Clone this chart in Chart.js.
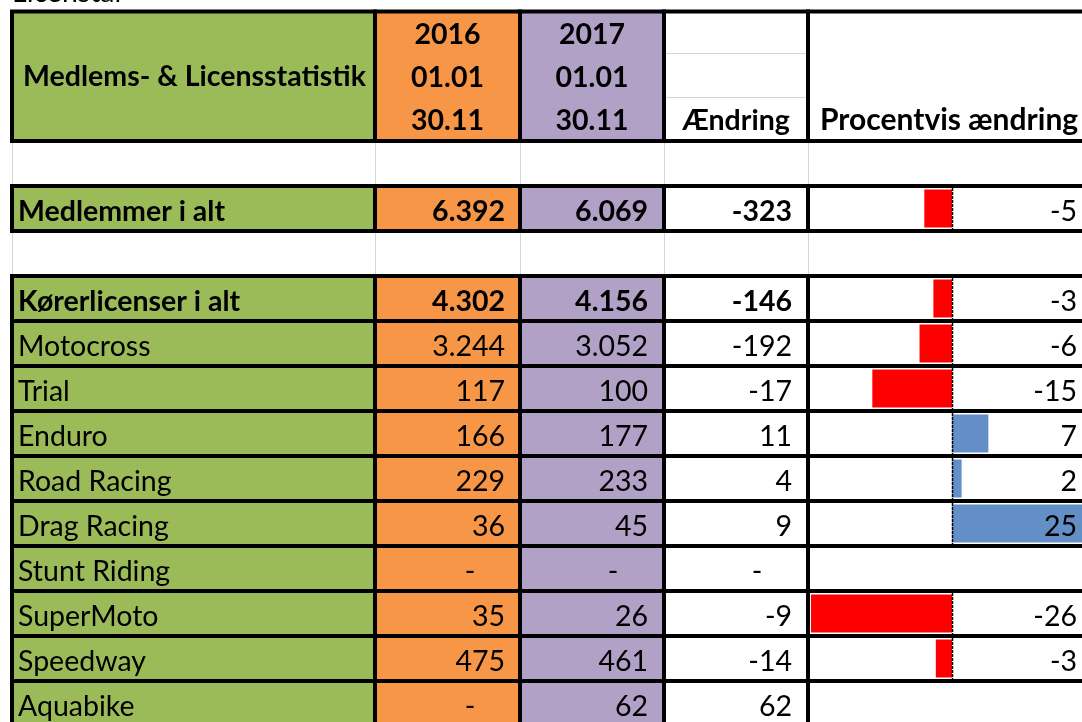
<!DOCTYPE html>
<html>
<head>
<meta charset="utf-8">
<style>
  html, body { margin: 0; padding: 0; background: #fff; overflow: hidden; }
  #wrap { position: relative; width: 1082px; height: 722px; overflow: hidden; }
</style>
</head>
<body>
<div id="wrap"><canvas id="myChart" width="1082" height="730"></canvas></div>

<script src="https://cdn.jsdelivr.net/npm/chart.js"></script>
<script>
    // table rows ('' = empty spacer row)
    const rows = ['', 'Medlemmer i alt', '', 'Kørerlicenser i alt', 'Motocross', 'Trial', 'Enduro',
                  'Road Racing', 'Drag Racing', 'Stunt Riding', 'SuperMoto', 'Speedway', 'Aquabike'];
    const boldRows = ['Medlemmer i alt', 'Kørerlicenser i alt'];
    // 0 is shown as '-'
    const count2016 = [null, 6392, null, 4302, 3244, 117, 166, 229, 36, 0, 35, 475, 0];
    const count2017 = [null, 6069, null, 4156, 3052, 100, 177, 233, 45, 0, 26, 461, 62];
    const change    = [null, -323, null, -146, -192, -17, 11, 4, 9, 0, -9, -14, 62];
    const pctChange = [null, -5.05, null, -3.39, -5.92, -14.53, 6.63, 1.75, 25.0, null, -25.71, -2.95, null];

    const title = 'Medlems- & Licensstatistik';
    const years = ['2016', '2017'];
    const periodFrom = '01.01';
    const periodTo = '30.11';

    const FONT = 'Lato, "Open Sans", sans-serif';
    const SIZE = '28.5px ';
    const colX = [12, 375, 520, 664, 808, 1100];
    const fills = ['#9BBB59', '#F79646', '#B2A1C7', '#FFFFFF', '#FFFFFF'];
    const rightX = [0, 505, 648, 792, 1077];

    function fmt(n) {
        const s = String(Math.abs(n)).replace(/\B(?=(\d{3})+(?!\d))/g, '.');
        return (n < 0 ? '-' : '') + s;
    }

    const tablePlugin = {
        id: 'table',
        beforeDatasetsDraw(chart) {
            const {ctx, chartArea, scales: {y}} = chart;
            const half = (chartArea.bottom - chartArea.top) / rows.length / 2;
            ctx.save();
            // header fills
            for (let c = 0; c < 3; c++) {
                ctx.fillStyle = fills[c];
                ctx.fillRect(colX[c], 11.5, colX[c + 1] - colX[c], chartArea.top - 11.5);
            }
            // grey gridlines inside col4 header
            ctx.strokeStyle = '#D4D4D4';
            ctx.lineWidth = 1;
            [53.5, 97.5].forEach(yy => {
                ctx.beginPath(); ctx.moveTo(colX[3], yy); ctx.lineTo(colX[4], yy); ctx.stroke();
            });
            rows.forEach((r, i) => {
                const yc = y.getPixelForValue(i);
                if (!r) {
                    ctx.strokeStyle = '#D4D4D4';
                    ctx.lineWidth = 1;
                    for (let c = 0; c < 5; c++) {
                        ctx.beginPath();
                        ctx.moveTo(colX[c] + 0.5, yc - half);
                        ctx.lineTo(colX[c] + 0.5, yc + half);
                        ctx.stroke();
                    }
                    return;
                }
                for (let c = 0; c < 3; c++) {
                    ctx.fillStyle = fills[c];
                    ctx.fillRect(colX[c], yc - half, colX[c + 1] - colX[c], half * 2);
                }
            });
            ctx.restore();
        },
        afterDatasetsDraw(chart) {
            const {ctx, chartArea, scales: {x, y}} = chart;
            const half = (chartArea.bottom - chartArea.top) / rows.length / 2;
            const x0 = Math.round(x.getPixelForValue(0)) + 0.5;
            ctx.save();

            // dashed axis in data bar cells
            ctx.strokeStyle = '#000';
            ctx.lineWidth = 1.5;
            ctx.setLineDash([3, 1]);
            rows.forEach((r, i) => {
                if (pctChange[i] === null) return;
                const yc = y.getPixelForValue(i);
                ctx.beginPath();
                ctx.moveTo(x0, yc - half + 2);
                ctx.lineTo(x0, yc + half - 2);
                ctx.stroke();
            });
            ctx.setLineDash([]);

            // texts
            ctx.fillStyle = '#000';
            ctx.textBaseline = 'alphabetic';
            ctx.font = SIZE + FONT;
            ctx.textAlign = 'left';
            ctx.fillText('Licenstal', 12, 2);

            ctx.font = 'bold ' + SIZE + FONT;
            ctx.textAlign = 'center';
            ctx.fillText(title, (colX[0] + colX[1]) / 2 + 1, 86);
            years.forEach((yr, k) => {
                const cx = (colX[k + 1] + colX[k + 2]) / 2;
                ctx.fillText(yr, cx, 44);
                ctx.fillText(periodFrom, cx, 87);
                ctx.fillText(periodTo, cx, 130);
            });
            ctx.fillText('Ændring', (colX[3] + colX[4]) / 2, 130);
            ctx.font = 'bold 30px ' + FONT;
            ctx.textAlign = 'left';
            ctx.fillText('Procentvis ændring', 820, 130);

            rows.forEach((r, i) => {
                if (!r) return;
                const yc = y.getPixelForValue(i);
                const base = yc + 12.5;
                const bold = boldRows.includes(r);
                ctx.font = (bold ? 'bold ' : '') + SIZE + FONT;
                ctx.textAlign = 'left';
                ctx.fillText(r, 18, base);
                [count2016, count2017, change].forEach((arr, k) => {
                    const v = arr[i];
                    if (v === 0) {
                        ctx.textAlign = 'center';
                        ctx.fillText('-', rightX[k + 1] - 35, base);
                    } else {
                        ctx.textAlign = 'right';
                        ctx.fillText(fmt(v), rightX[k + 1], base);
                    }
                });
                if (pctChange[i] !== null) {
                    ctx.font = SIZE + FONT;
                    ctx.textAlign = 'right';
                    ctx.fillText(String(Math.round(pctChange[i])), rightX[4], base);
                }
            });

            // black borders
            ctx.strokeStyle = '#000';
            ctx.lineWidth = 4;
            for (let c = 0; c < 5; c++) {
                ctx.strokeRect(colX[c], 11.5, colX[c + 1] - colX[c], chartArea.top - 11.5);
            }
            rows.forEach((r, i) => {
                if (!r) return;
                const yc = y.getPixelForValue(i);
                for (let c = 0; c < 5; c++) {
                    ctx.strokeRect(colX[c], yc - half, colX[c + 1] - colX[c], half * 2);
                }
            });
            ctx.restore();
        }
    };

    const ctx = document.getElementById('myChart');
    const myChart = new Chart(ctx, {
        type: 'bar',
        data: {
            labels: rows,
            datasets: [{
                label: 'Procentvis ændring',
                data: pctChange,
                backgroundColor: c => (c.raw < 0 ? '#FF0000' : '#638EC6'),
                borderWidth: 0,
                barPercentage: 1,
                categoryPercentage: 38 / 45
            }]
        },
        options: {
            indexAxis: 'y',
            responsive: false,
            animation: false,
            layout: { padding: { left: 811, top: 141, right: 0, bottom: 4 } },
            plugins: {
                legend: { display: false },
                tooltip: { enabled: false }
            },
            scales: {
                x: { display: false, min: -25.71, max: 23.7 },
                y: { display: false }
            }
        },
        plugins: [tablePlugin]
    });
</script>
</body>
</html>
